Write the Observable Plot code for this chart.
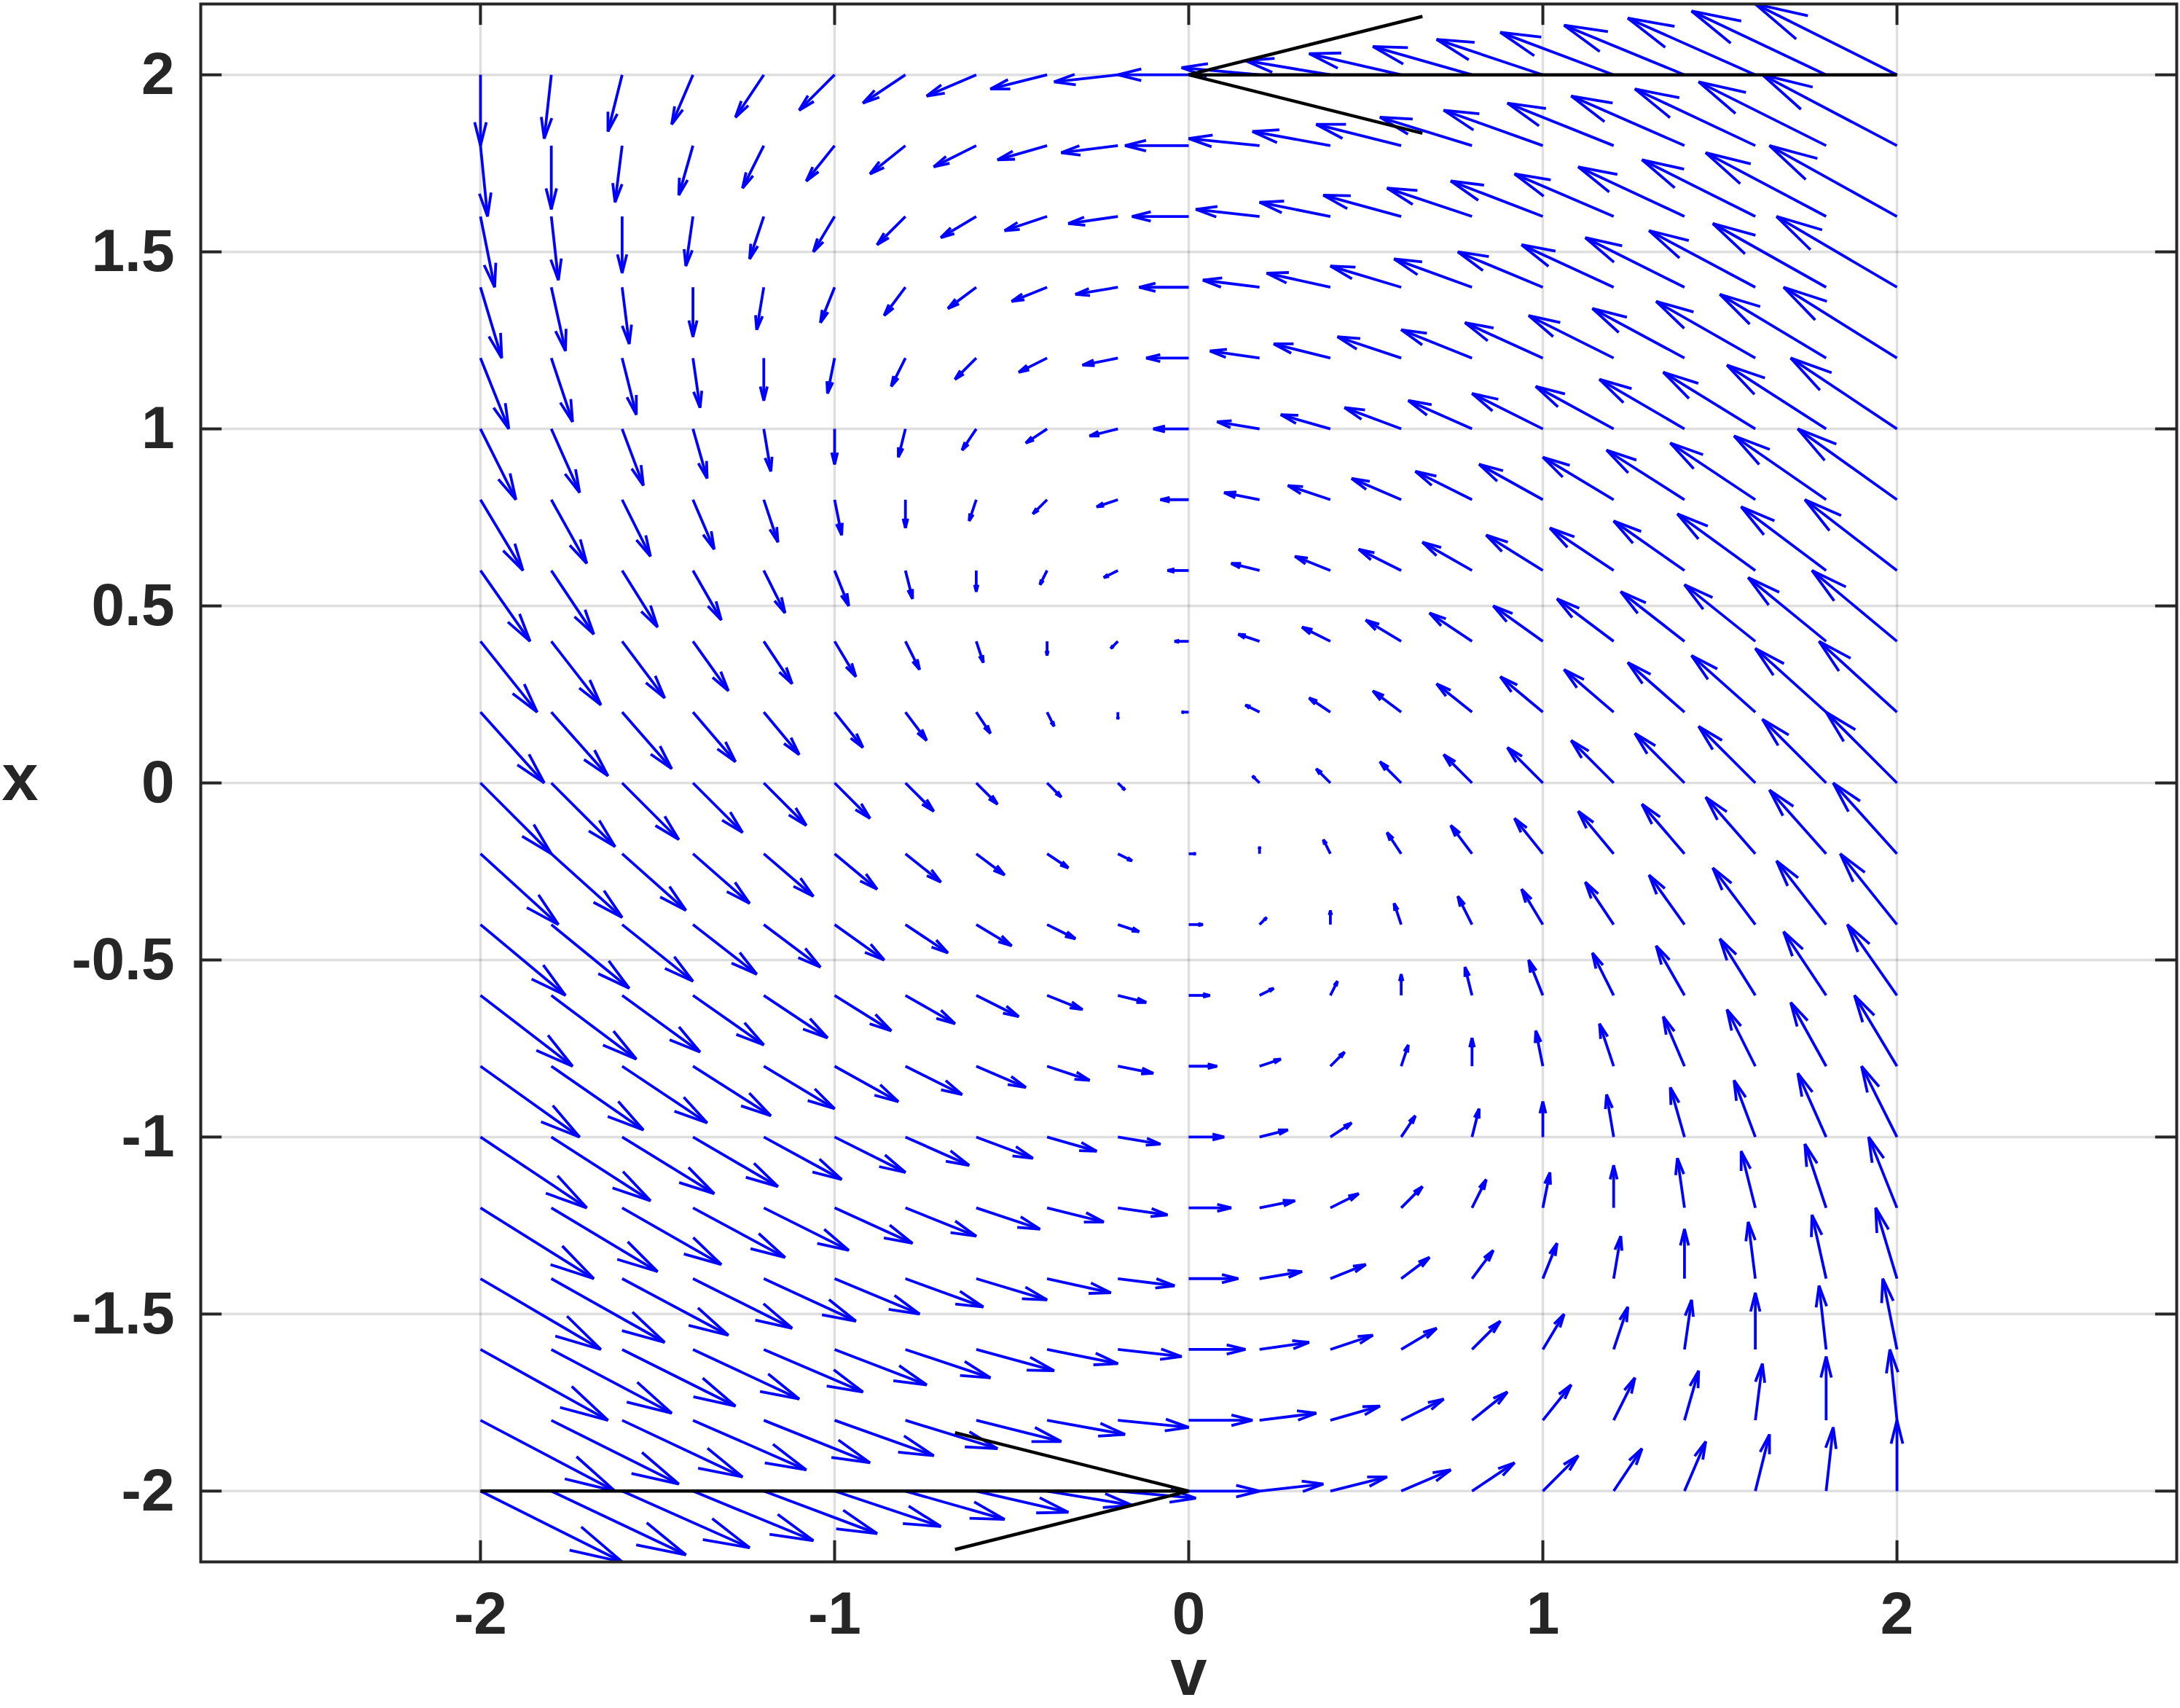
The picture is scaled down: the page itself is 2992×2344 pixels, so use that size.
<!DOCTYPE html>
<html><head><meta charset="utf-8">
<script src="https://cdn.jsdelivr.net/npm/d3@7"></script>
<script src="https://cdn.jsdelivr.net/npm/@observablehq/plot@0.6"></script>
<style>
html,body{margin:0;padding:0;background:#fff;}
#chart svg{display:block;}
</style></head><body><div id="chart"></div>
<script>
// Grid of arrow tails: columns (v) and rows (x, top to bottom)
const vGrid = [-2,-1.8,-1.6,-1.4,-1.2,-1,-0.8,-0.6,-0.4,-0.2,0,0.2,0.4,0.6,0.8,1,1.2,1.4,1.6,1.8,2];
const xGrid = [2,1.8,1.6,1.4,1.2,1,0.8,0.6,0.4,0.2,0,-0.2,-0.4,-0.6,-0.8,-1,-1.2,-1.4,-1.6,-1.8,-2];

// Horizontal (v') component of each arrow, one row per xGrid entry
const dvRows = [
  [0,-0.2,-0.4,-0.6,-0.8,-1,-1.2,-1.4,-1.6,-1.8,-2,-2.2,-2.4,-2.6,-2.8,-3,-3.2,-3.4,-3.6,-3.8,-4],
  [0.2,0,-0.2,-0.4,-0.6,-0.8,-1,-1.2,-1.4,-1.6,-1.8,-2,-2.2,-2.4,-2.6,-2.8,-3,-3.2,-3.4,-3.6,-3.8],
  [0.4,0.2,0,-0.2,-0.4,-0.6,-0.8,-1,-1.2,-1.4,-1.6,-1.8,-2,-2.2,-2.4,-2.6,-2.8,-3,-3.2,-3.4,-3.6],
  [0.6,0.4,0.2,0,-0.2,-0.4,-0.6,-0.8,-1,-1.2,-1.4,-1.6,-1.8,-2,-2.2,-2.4,-2.6,-2.8,-3,-3.2,-3.4],
  [0.8,0.6,0.4,0.2,0,-0.2,-0.4,-0.6,-0.8,-1,-1.2,-1.4,-1.6,-1.8,-2,-2.2,-2.4,-2.6,-2.8,-3,-3.2],
  [1,0.8,0.6,0.4,0.2,0,-0.2,-0.4,-0.6,-0.8,-1,-1.2,-1.4,-1.6,-1.8,-2,-2.2,-2.4,-2.6,-2.8,-3],
  [1.2,1,0.8,0.6,0.4,0.2,0,-0.2,-0.4,-0.6,-0.8,-1,-1.2,-1.4,-1.6,-1.8,-2,-2.2,-2.4,-2.6,-2.8],
  [1.4,1.2,1,0.8,0.6,0.4,0.2,0,-0.2,-0.4,-0.6,-0.8,-1,-1.2,-1.4,-1.6,-1.8,-2,-2.2,-2.4,-2.6],
  [1.6,1.4,1.2,1,0.8,0.6,0.4,0.2,0,-0.2,-0.4,-0.6,-0.8,-1,-1.2,-1.4,-1.6,-1.8,-2,-2.2,-2.4],
  [1.8,1.6,1.4,1.2,1,0.8,0.6,0.4,0.2,0,-0.2,-0.4,-0.6,-0.8,-1,-1.2,-1.4,-1.6,-1.8,-2,-2.2],
  [2,1.8,1.6,1.4,1.2,1,0.8,0.6,0.4,0.2,0,-0.2,-0.4,-0.6,-0.8,-1,-1.2,-1.4,-1.6,-1.8,-2],
  [2.2,2,1.8,1.6,1.4,1.2,1,0.8,0.6,0.4,0.2,0,-0.2,-0.4,-0.6,-0.8,-1,-1.2,-1.4,-1.6,-1.8],
  [2.4,2.2,2,1.8,1.6,1.4,1.2,1,0.8,0.6,0.4,0.2,0,-0.2,-0.4,-0.6,-0.8,-1,-1.2,-1.4,-1.6],
  [2.6,2.4,2.2,2,1.8,1.6,1.4,1.2,1,0.8,0.6,0.4,0.2,0,-0.2,-0.4,-0.6,-0.8,-1,-1.2,-1.4],
  [2.8,2.6,2.4,2.2,2,1.8,1.6,1.4,1.2,1,0.8,0.6,0.4,0.2,0,-0.2,-0.4,-0.6,-0.8,-1,-1.2],
  [3,2.8,2.6,2.4,2.2,2,1.8,1.6,1.4,1.2,1,0.8,0.6,0.4,0.2,0,-0.2,-0.4,-0.6,-0.8,-1],
  [3.2,3,2.8,2.6,2.4,2.2,2,1.8,1.6,1.4,1.2,1,0.8,0.6,0.4,0.2,0,-0.2,-0.4,-0.6,-0.8],
  [3.4,3.2,3,2.8,2.6,2.4,2.2,2,1.8,1.6,1.4,1.2,1,0.8,0.6,0.4,0.2,0,-0.2,-0.4,-0.6],
  [3.6,3.4,3.2,3,2.8,2.6,2.4,2.2,2,1.8,1.6,1.4,1.2,1,0.8,0.6,0.4,0.2,0,-0.2,-0.4],
  [3.8,3.6,3.4,3.2,3,2.8,2.6,2.4,2.2,2,1.8,1.6,1.4,1.2,1,0.8,0.6,0.4,0.2,0,-0.2],
  [4,3.8,3.6,3.4,3.2,3,2.8,2.6,2.4,2.2,2,1.8,1.6,1.4,1.2,1,0.8,0.6,0.4,0.2,0]
];

// Vertical (x') component of each arrow, one row per xGrid entry
const dxRows = [
  [-2,-1.8,-1.6,-1.4,-1.2,-1,-0.8,-0.6,-0.4,-0.2,0,0.2,0.4,0.6,0.8,1,1.2,1.4,1.6,1.8,2],
  [-2,-1.8,-1.6,-1.4,-1.2,-1,-0.8,-0.6,-0.4,-0.2,0,0.2,0.4,0.6,0.8,1,1.2,1.4,1.6,1.8,2],
  [-2,-1.8,-1.6,-1.4,-1.2,-1,-0.8,-0.6,-0.4,-0.2,0,0.2,0.4,0.6,0.8,1,1.2,1.4,1.6,1.8,2],
  [-2,-1.8,-1.6,-1.4,-1.2,-1,-0.8,-0.6,-0.4,-0.2,0,0.2,0.4,0.6,0.8,1,1.2,1.4,1.6,1.8,2],
  [-2,-1.8,-1.6,-1.4,-1.2,-1,-0.8,-0.6,-0.4,-0.2,0,0.2,0.4,0.6,0.8,1,1.2,1.4,1.6,1.8,2],
  [-2,-1.8,-1.6,-1.4,-1.2,-1,-0.8,-0.6,-0.4,-0.2,0,0.2,0.4,0.6,0.8,1,1.2,1.4,1.6,1.8,2],
  [-2,-1.8,-1.6,-1.4,-1.2,-1,-0.8,-0.6,-0.4,-0.2,0,0.2,0.4,0.6,0.8,1,1.2,1.4,1.6,1.8,2],
  [-2,-1.8,-1.6,-1.4,-1.2,-1,-0.8,-0.6,-0.4,-0.2,0,0.2,0.4,0.6,0.8,1,1.2,1.4,1.6,1.8,2],
  [-2,-1.8,-1.6,-1.4,-1.2,-1,-0.8,-0.6,-0.4,-0.2,0,0.2,0.4,0.6,0.8,1,1.2,1.4,1.6,1.8,2],
  [-2,-1.8,-1.6,-1.4,-1.2,-1,-0.8,-0.6,-0.4,-0.2,0,0.2,0.4,0.6,0.8,1,1.2,1.4,1.6,1.8,2],
  [-2,-1.8,-1.6,-1.4,-1.2,-1,-0.8,-0.6,-0.4,-0.2,0,0.2,0.4,0.6,0.8,1,1.2,1.4,1.6,1.8,2],
  [-2,-1.8,-1.6,-1.4,-1.2,-1,-0.8,-0.6,-0.4,-0.2,0,0.2,0.4,0.6,0.8,1,1.2,1.4,1.6,1.8,2],
  [-2,-1.8,-1.6,-1.4,-1.2,-1,-0.8,-0.6,-0.4,-0.2,0,0.2,0.4,0.6,0.8,1,1.2,1.4,1.6,1.8,2],
  [-2,-1.8,-1.6,-1.4,-1.2,-1,-0.8,-0.6,-0.4,-0.2,0,0.2,0.4,0.6,0.8,1,1.2,1.4,1.6,1.8,2],
  [-2,-1.8,-1.6,-1.4,-1.2,-1,-0.8,-0.6,-0.4,-0.2,0,0.2,0.4,0.6,0.8,1,1.2,1.4,1.6,1.8,2],
  [-2,-1.8,-1.6,-1.4,-1.2,-1,-0.8,-0.6,-0.4,-0.2,0,0.2,0.4,0.6,0.8,1,1.2,1.4,1.6,1.8,2],
  [-2,-1.8,-1.6,-1.4,-1.2,-1,-0.8,-0.6,-0.4,-0.2,0,0.2,0.4,0.6,0.8,1,1.2,1.4,1.6,1.8,2],
  [-2,-1.8,-1.6,-1.4,-1.2,-1,-0.8,-0.6,-0.4,-0.2,0,0.2,0.4,0.6,0.8,1,1.2,1.4,1.6,1.8,2],
  [-2,-1.8,-1.6,-1.4,-1.2,-1,-0.8,-0.6,-0.4,-0.2,0,0.2,0.4,0.6,0.8,1,1.2,1.4,1.6,1.8,2],
  [-2,-1.8,-1.6,-1.4,-1.2,-1,-0.8,-0.6,-0.4,-0.2,0,0.2,0.4,0.6,0.8,1,1.2,1.4,1.6,1.8,2],
  [-2,-1.8,-1.6,-1.4,-1.2,-1,-0.8,-0.6,-0.4,-0.2,0,0.2,0.4,0.6,0.8,1,1.2,1.4,1.6,1.8,2]
];

// The two black guide arrows (tail and displacement)
const guideTailV = [2, -2];
const guideTailX = [2, -2];
const guideDV = [-2, 2];
const guideDX = [0, 0];

// Axis ticks
const vTicks = [-2, -1, 0, 1, 2];
const xTicks = [-2, -1.5, -1, -0.5, 0, 0.5, 1, 1.5, 2];

// ---- rendering ----
const arrowScale = 0.1;      // quiver scale factor
const headAlpha = 0.33, headBeta = 0.25;
const vDomain = [-2.79, 2.79], xDomain = [-2.2, 2.2];
const tickLen = 0.06;        // inward tick length in data units

function buildArrows(tv, tx, du, dw, scale, idBase) {
  const shafts = [], heads = [];
  for (let k = 0; k < tv.length; k++) {
    const u = du[k] * scale, w = dw[k] * scale;
    const ex = tv[k] + u, ey = tx[k] + w;
    const bx = -headAlpha * u, by = -headAlpha * w;
    const px = -headAlpha * headBeta * w, py = headAlpha * headBeta * u;
    const id = idBase + k;
    shafts.push({v: tv[k], x: tx[k], ev: ex, ex: ey});
    heads.push({id, px: ex + bx + px, py: ey + by + py});
    heads.push({id, px: ex, py: ey});
    heads.push({id, px: ex + bx - px, py: ey + by - py});
  }
  return {shafts, heads};
}

const tv = [], tx = [], du = [], dw = [];
xGrid.forEach((xv, i) => vGrid.forEach((vv, j) => {
  tv.push(vv); tx.push(xv); du.push(dvRows[i][j]); dw.push(dxRows[i][j]);
}));
const blue = buildArrows(tv, tx, du, dw, arrowScale, 0);
const black = buildArrows(guideTailV, guideTailX, guideDV, guideDX, 1, 10000);

const ink = "#262626";
const font = "'Liberation Sans', Arial, Helvetica, sans-serif";

const chart = Plot.plot({
  width: 2992,
  height: 2344,
  marginLeft: 275,
  marginRight: 5,
  marginTop: 5,
  marginBottom: 201,
  x: {domain: vDomain, label: null},
  y: {domain: xDomain, label: null},
  style: {fontFamily: font, background: "#fff"},
  marks: [
    Plot.ruleX(vTicks, {x: d => d, stroke: ink, strokeOpacity: 0.15, strokeWidth: 3.5}),
    Plot.ruleY(xTicks, {y: d => d, stroke: ink, strokeOpacity: 0.15, strokeWidth: 3.5}),
    Plot.link(blue.shafts, {x1: "v", y1: "x", x2: "ev", y2: "ex", stroke: "#0000ff", strokeWidth: 3.8, clip: true}),
    Plot.line(blue.heads, {x: "px", y: "py", z: "id", stroke: "#0000ff", strokeWidth: 3.8,
      strokeLinecap: "butt", strokeLinejoin: "miter", clip: true}),
    Plot.link(black.shafts, {x1: "v", y1: "x", x2: "ev", y2: "ex", stroke: "#000", strokeWidth: 4.5, clip: true}),
    Plot.line(black.heads, {x: "px", y: "py", z: "id", stroke: "#000", strokeWidth: 4.5,
      strokeLinecap: "butt", strokeLinejoin: "miter", clip: true}),
    // inward ticks on all four sides
    Plot.ruleX(vTicks, {x: d => d, y1: xDomain[0], y2: xDomain[0] + tickLen, stroke: ink, strokeWidth: 4}),
    Plot.ruleX(vTicks, {x: d => d, y1: xDomain[1], y2: xDomain[1] - tickLen, stroke: ink, strokeWidth: 4}),
    Plot.ruleY(xTicks, {y: d => d, x1: vDomain[0], x2: vDomain[0] + tickLen, stroke: ink, strokeWidth: 4}),
    Plot.ruleY(xTicks, {y: d => d, x1: vDomain[1], x2: vDomain[1] - tickLen, stroke: ink, strokeWidth: 4}),
    Plot.frame({stroke: ink, strokeWidth: 4}),
    Plot.axisX(vTicks, {tickSize: 0, tickPadding: 40, tickFormat: d => String(d), fontSize: 82,
      fontWeight: "bold", fill: ink, label: null}),
    Plot.axisY(xTicks, {tickSize: 0, tickPadding: 36, tickFormat: d => String(d), fontSize: 82,
      fontWeight: "bold", fill: ink, label: null}),
    Plot.text(["v"], {text: d => d, frameAnchor: "bottom", dy: 182, lineAnchor: "bottom",
      textAnchor: "middle", fontSize: 90, fontWeight: "bold", fill: ink}),
    Plot.text(["x"], {text: d => d, frameAnchor: "left", dx: -248, dy: -5, textAnchor: "middle",
      fontSize: 90, fontWeight: "bold", fill: ink})
  ]
});
document.getElementById("chart").appendChild(chart);
</script>
</body></html>
